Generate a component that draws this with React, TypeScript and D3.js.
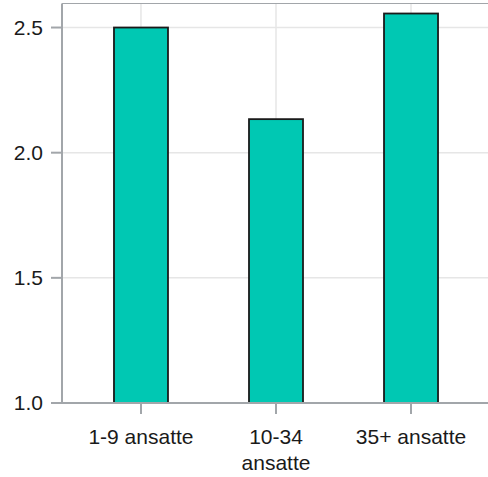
import React, { useEffect, useRef } from "react";
import * as d3 from "d3";

const categories = ["1-9 ansatte", "10-34 ansatte", "35+ ansatte"];
const values = [2.5, 2.134, 2.556];
const yTicks = [1.0, 1.5, 2.0, 2.5];

const W = 488;
const H = 477;

export default function App() {
  const ref = useRef<SVGSVGElement>(null);

  useEffect(() => {
    const svg = d3.select(ref.current);
    svg.selectAll("*").remove();

    const left = 62, right = 490, top = 3.5, bottom = 403;
    const x = d3.scalePoint<string>().domain(categories).range([left, right]).padding(0.585);
    const y = d3.scaleLinear().domain([1, 2.596]).range([bottom, top]);
    const step = x.step();
    const bw = step * 0.4;
    const font = "'Liberation Sans', Arial, sans-serif";
    const axisColor = "#a2a6aa";
    const gridColor = "#e6e6e6";

    // panel background
    svg.append("rect").attr("x", left).attr("y", top).attr("width", W - left).attr("height", bottom - top).attr("fill", "#fff");

    // grid
    svg.selectAll(".hg").data(yTicks).enter().append("line")
      .attr("x1", left).attr("x2", W).attr("y1", d => y(d)).attr("y2", d => y(d))
      .attr("stroke", gridColor).attr("stroke-width", 1.5);
    svg.selectAll(".vg").data(categories).enter().append("line")
      .attr("x1", d => x(d)!).attr("x2", d => x(d)!).attr("y1", top).attr("y2", bottom)
      .attr("stroke", gridColor).attr("stroke-width", 1.5);

    // top border
    svg.append("line").attr("x1", left).attr("x2", W).attr("y1", top).attr("y2", top)
      .attr("stroke", axisColor).attr("stroke-width", 1.2);

    // bars
    svg.selectAll(".bar").data(values).enter().append("rect")
      .attr("x", (d, i) => x(categories[i])! - bw / 2)
      .attr("width", bw)
      .attr("y", d => y(d))
      .attr("height", d => y(1) - y(d))
      .attr("fill", "#00c8b3")
      .attr("stroke", "#1a1a1a")
      .attr("stroke-width", 1.8);

    // axes lines
    svg.append("line").attr("x1", left).attr("x2", left).attr("y1", top).attr("y2", bottom + 1)
      .attr("stroke", axisColor).attr("stroke-width", 2);
    svg.append("line").attr("x1", left).attr("x2", W).attr("y1", bottom).attr("y2", bottom)
      .attr("stroke", axisColor).attr("stroke-width", 2);

    // y ticks
    svg.selectAll(".yt").data(yTicks).enter().append("line")
      .attr("x1", left - 11).attr("x2", left).attr("y1", d => y(d)).attr("y2", d => y(d))
      .attr("stroke", axisColor).attr("stroke-width", 2);
    svg.selectAll(".yl").data(yTicks).enter().append("text")
      .attr("x", left - 19).attr("y", d => y(d)).attr("dy", "0.35em")
      .attr("text-anchor", "end").attr("font-family", font).attr("font-size", 21).attr("fill", "#1a1a1a")
      .text(d => d3.format(".1f")(d));

    // x ticks
    svg.selectAll(".xt").data(categories).enter().append("line")
      .attr("x1", d => x(d)!).attr("x2", d => x(d)!).attr("y1", bottom).attr("y2", bottom + 11)
      .attr("stroke", axisColor).attr("stroke-width", 2);

    const maxW = 118;
    categories.forEach(c => {
      const t = svg.append("text").attr("x", x(c)!).attr("y", 444)
        .attr("text-anchor", "middle").attr("font-family", font).attr("font-size", 21).attr("fill", "#1a1a1a");
      const words = c.split(" ");
      let line: string[] = [];
      let lineNo = 0;
      let ts = t.append("tspan").attr("x", x(c)!).attr("y", 444);
      words.forEach(w => {
        line.push(w);
        ts.text(line.join(" "));
        if ((ts.node() as SVGTextContentElement).getComputedTextLength() > maxW && line.length > 1) {
          line.pop();
          ts.text(line.join(" "));
          line = [w];
          lineNo++;
          ts = t.append("tspan").attr("x", x(c)!).attr("y", 444 + lineNo * 26).text(w);
        }
      });
    });
  }, []);

  return <svg ref={ref} width={W} height={H} style={{ display: "block", position: "absolute", left: 0, top: 0 }} />;
}
